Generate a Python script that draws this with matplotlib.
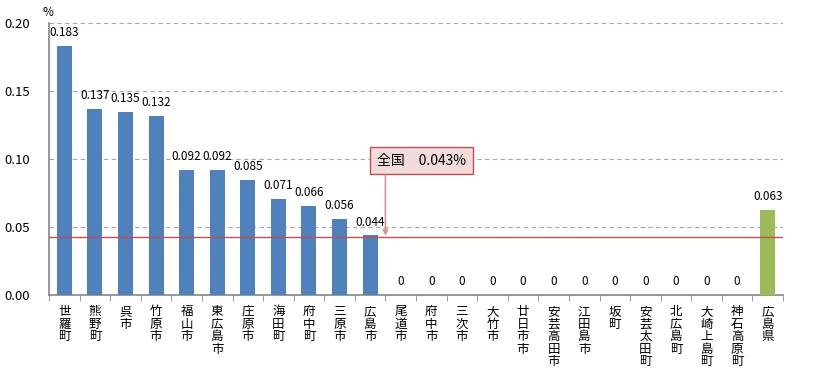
import numpy as np
import matplotlib
import matplotlib.pyplot as plt

plt.rcParams['font.family'] = ['Noto Sans CJK JP', 'DejaVu Sans']

names = ['世羅町', '熊野町', '呉市', '竹原市', '福山市', '東広島市', '庄原市', '海田町',
         '府中町', '三原市', '広島市', '尾道市', '府中市', '三次市', '大竹市', '廿日市市',
         '安芸高田市', '江田島市', '坂町', '安芸太田町', '北広島町', '大崎上島町',
         '神石高原町', '広島県']
values = [0.183, 0.137, 0.135, 0.132, 0.092, 0.092, 0.085, 0.071, 0.066, 0.056, 0.044,
          0, 0, 0, 0, 0, 0, 0, 0, 0, 0, 0, 0, 0.063]
value_labels = ['0.183', '0.137', '0.135', '0.132', '0.092', '0.092', '0.085', '0.071',
                '0.066', '0.056', '0.044', '0', '0', '0', '0', '0', '0', '0', '0', '0',
                '0', '0', '0', '0.063']
national = 0.043
national_label = '全国　0.043%'
yticks = [0.00, 0.05, 0.10, 0.15, 0.20]

blue = '#4f81bd'
green = '#9bbb59'
red = '#c0504d'
gray = '#868686'

fig = plt.figure(figsize=(8.13, 3.79), dpi=100)
ax = fig.add_axes([49 / 813, 1 - 295.3 / 379, (783 - 49) / 813, (295.3 - 23.3) / 379])

x = np.arange(len(names))
colors = [blue] * (len(names) - 1) + [green]
ax.bar(x, values, width=0.49, color=colors, zorder=3)

for xi, v, s in zip(x, values, value_labels):
    ax.annotate(s, xy=(xi, v), xytext=(0, 5), textcoords='offset points',
                ha='center', va='bottom', fontsize=8.5, zorder=4)

# national average line
ax.axhline(national, color=red, linewidth=1, zorder=4)

# callout box + arrow
ax.annotate('', xy=(10.5, national + 0.0008), xytext=(10.5, 0.089),
            arrowprops=dict(arrowstyle='-|>', color='#d99694', lw=1.2,
                            mutation_scale=8, shrinkA=0, shrinkB=0), zorder=5)
ax.text(11.69, 0.0991, national_label, ha='center', va='center', fontsize=10, zorder=6,
        bbox=dict(boxstyle='square,pad=0.5', facecolor='#f2dcdb', edgecolor=red, lw=1))

ax.set_xlim(-0.5, len(names) - 0.5)
ax.set_ylim(0, 0.2)
ax.set_yticks(yticks)
ax.set_yticklabels(['%.2f' % t for t in yticks], fontsize=9.5)
ax.tick_params(axis='y', length=0, pad=14)
ax.yaxis.grid(True, color='#a6a6a6', linestyle=(0, (4, 3)), linewidth=0.8, zorder=0)

ax.set_xticks(x)
ax.set_xticklabels(['\n'.join(n) for n in names], fontsize=9, linespacing=0.95, va='top')
ax.set_xticks(np.arange(len(names) + 1) - 0.5, minor=True)
ax.tick_params(axis='x', which='major', length=0, pad=7)
ax.tick_params(axis='x', which='minor', length=4, color=gray, direction='out')

for side in ['top', 'right']:
    ax.spines[side].set_visible(False)
for side in ['left', 'bottom']:
    ax.spines[side].set_color(gray)
    ax.spines[side].set_linewidth(1.2)

fig.text(48 / 813, 1 - 12 / 379, '%', ha='center', va='center', fontsize=8.5)

fig.savefig('out.png', dpi=100)
